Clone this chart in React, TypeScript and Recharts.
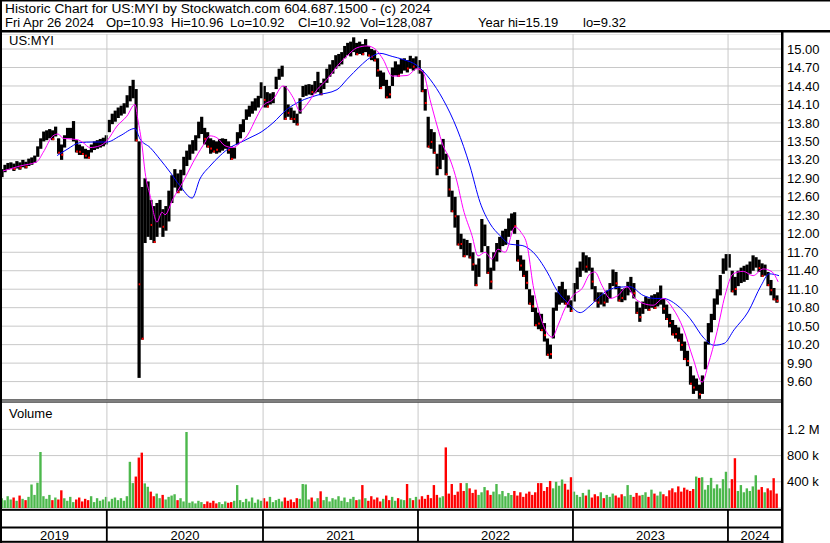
import { ComposedChart, Bar, Line, XAxis, YAxis, CartesianGrid, ReferenceLine, Cell } from "recharts";

// weekly ranges, late Apr 2019 -> Apr 26 2024
const LOWS = [
  12.92, 13.00, 13.04, 13.05, 13.02, 13.06, 13.04, 13.08, 13.06, 13.10,
  13.12, 13.15, 13.25, 13.38, 13.50, 13.52, 13.55, 13.52, 13.58, 13.30,
  13.20, 13.40, 13.55, 13.55, 13.50, 13.32, 13.28, 13.28, 13.22, 13.22,
  13.32, 13.36, 13.38, 13.40, 13.42, 13.45, 13.65, 13.78, 13.82, 13.88,
  13.92, 13.95, 14.05, 14.15, 14.20, 13.50, 9.66, 10.28, 11.85, 11.95,
  11.90, 11.85, 11.95, 12.10, 11.95, 12.05, 12.20, 12.50, 12.75, 12.66,
  12.70, 12.95, 13.10, 13.20, 13.30, 13.35, 13.55, 13.62, 13.45, 13.40,
  13.30, 13.32, 13.30, 13.32, 13.35, 13.38, 13.30, 13.20, 13.22, 13.45,
  13.55, 13.65, 13.85, 13.90, 13.95, 14.00, 14.05, 14.20, 14.05, 14.05,
  14.10, 14.12, 14.35, 14.50, 14.55, 13.85, 13.90, 13.85, 13.80, 13.76,
  13.95, 14.22, 14.24, 14.26, 14.25, 14.28, 14.30, 14.25, 14.35, 14.45,
  14.55, 14.60, 14.68, 14.72, 14.75, 14.85, 14.90, 14.88, 14.95, 14.90,
  14.92, 14.90, 14.95, 14.88, 14.82, 14.80, 14.55, 14.35, 14.40, 14.20,
  14.20, 14.40, 14.57, 14.55, 14.60, 14.65, 14.62, 14.68, 14.65, 14.68,
  14.60, 14.30, 14.00, 13.40, 13.38, 13.30, 12.95, 13.05, 13.20, 12.95,
  12.60, 12.35, 12.10, 11.81, 11.75, 11.62, 11.65, 11.60, 11.40, 11.15,
  11.30, 11.70, 11.80, 11.35, 11.10, 11.40, 11.55, 11.70, 11.80, 11.82,
  11.95, 12.05, 12.00, 11.55, 11.40, 11.30, 11.10, 10.85, 10.73, 10.50,
  10.45, 10.42, 10.25, 10.02, 9.97, 10.30, 10.75, 10.85, 10.88, 10.85,
  10.80, 10.73, 10.90, 11.10, 11.30, 11.40, 11.37, 11.40, 11.10, 10.90,
  10.80, 10.85, 10.82, 10.88, 10.95, 11.15, 11.10, 10.90, 10.89, 10.92,
  11.00, 11.05, 10.95, 10.70, 10.57, 10.70, 10.78, 10.75, 10.80, 10.78,
  10.82, 10.85, 10.70, 10.60, 10.48, 10.35, 10.30, 10.25, 10.10, 9.95,
  9.85, 9.55, 9.40, 9.45, 9.32, 9.40, 9.80, 10.20, 10.40, 10.60,
  10.85, 11.00, 11.35, 11.40, 11.45, 11.05, 11.00, 11.15, 11.20, 11.22,
  11.25, 11.35, 11.40, 11.45, 11.38, 11.30, 11.32, 11.15, 11.00, 10.92, 10.88,
];
const HIGHS = [
  13.05, 13.12, 13.15, 13.16, 13.14, 13.18, 13.16, 13.20, 13.17, 13.22,
  13.24, 13.27, 13.42, 13.55, 13.66, 13.68, 13.70, 13.68, 13.74, 13.55,
  13.45, 13.60, 13.72, 13.72, 13.83, 13.52, 13.45, 13.42, 13.38, 13.36,
  13.45, 13.50, 13.52, 13.54, 13.56, 13.60, 13.85, 13.95, 14.00, 14.05,
  14.08, 14.12, 14.25, 14.40, 14.50, 14.35, 13.50, 12.76, 12.90, 12.85,
  12.55, 12.45, 12.50, 12.55, 12.40, 12.45, 12.70, 12.95, 13.05, 12.98,
  13.04, 13.25, 13.35, 13.45, 13.52, 13.60, 13.82, 13.90, 13.72, 13.65,
  13.55, 13.52, 13.50, 13.54, 13.55, 13.54, 13.50, 13.42, 13.40, 13.65,
  13.78, 13.86, 14.02, 14.08, 14.15, 14.20, 14.24, 14.46, 14.40, 14.30,
  14.28, 14.30, 14.55, 14.68, 14.73, 14.40, 14.10, 14.05, 14.00, 13.95,
  14.20, 14.40, 14.42, 14.43, 14.42, 14.48, 14.63, 14.45, 14.52, 14.68,
  14.75, 14.82, 14.90, 14.92, 14.95, 15.05, 15.10, 15.12, 15.19, 15.10,
  15.12, 15.08, 15.16, 15.05, 15.00, 14.98, 14.85, 14.65, 14.62, 14.50,
  14.40, 14.70, 14.80, 14.75, 14.84, 14.85, 14.82, 14.89, 14.85, 14.88,
  14.82, 14.65, 14.35, 13.90, 13.70, 13.65, 13.30, 13.45, 13.54, 13.30,
  12.94, 12.70, 12.60, 12.30, 12.00, 11.92, 11.90, 11.85, 11.70, 11.50,
  11.60, 12.24, 12.15, 11.80, 11.45, 11.70, 11.85, 11.95, 12.05, 12.08,
  12.25, 12.33, 12.35, 11.90, 11.65, 11.58, 11.40, 11.10, 11.00, 10.80,
  10.72, 10.70, 10.55, 10.30, 10.20, 10.80, 11.05, 11.15, 11.22, 11.10,
  11.00, 10.92, 11.20, 11.45, 11.55, 11.70, 11.65, 11.62, 11.45, 11.15,
  11.05, 11.05, 11.02, 11.08, 11.20, 11.42, 11.38, 11.15, 11.10, 11.12,
  11.22, 11.30, 11.20, 10.90, 10.80, 10.90, 10.98, 10.95, 11.00, 11.02,
  11.05, 11.16, 10.95, 10.85, 10.70, 10.60, 10.52, 10.48, 10.38, 10.25,
  10.10, 9.85, 9.70, 9.65, 9.55, 9.70, 10.25, 10.55, 10.70, 10.95,
  11.10, 11.33, 11.60, 11.67, 11.67, 11.40, 11.30, 11.40, 11.45, 11.48,
  11.50, 11.55, 11.65, 11.62, 11.58, 11.52, 11.50, 11.38, 11.25, 11.12, 11.00,
];
// weekly volume, thousands of shares
const VOLUME_K = [
  150, 120, 180, 130, 160, 110, 190, 140, 120, 170,
  360, 200, 385, 855, 180, 140, 200, 120, 160, 130,
  270, 150, 110, 170, 90, 130, 160, 100, 140, 120,
  180, 90, 150, 110, 130, 170, 100, 140, 160, 120,
  150, 110, 180, 705, 380, 480, 770, 845, 376, 324,
  250, 180, 220, 150, 200, 130, 170, 190, 210, 120,
  150, 100, 1160, 80, 100, 70, 110, 90, 60, 100,
  80, 110, 70, 90, 60, 100, 80, 90, 110, 350,
  120, 90, 140, 100, 160, 80, 130, 110, 150, 100,
  170, 90, 120, 140, 100, 160, 110, 130, 90, 150,
  140, 366, 360, 130, 160, 100, 150, 255, 120, 170,
  100, 150, 130, 180, 110, 160, 90, 140, 170, 120,
  130, 350, 150, 110, 180, 130, 160, 100, 140, 190,
  120, 170, 110, 150, 130, 120, 366, 150, 120, 170,
  130, 180, 140, 200, 150, 350, 200, 160, 180, 925,
  220, 366, 200, 250, 380, 260, 380, 300, 230, 280,
  200, 240, 320, 270, 200, 250, 366, 210, 260, 180,
  230, 200, 260, 190, 240, 170, 220, 250, 200, 240,
  380, 380, 260, 320, 413, 300, 400, 340, 435, 370,
  280, 470, 250, 200, 170, 230, 190, 280, 160, 210,
  180, 240, 150, 200, 170, 220, 190, 160, 210, 180,
  350, 200, 170, 230, 190, 200, 240, 170, 280, 220,
  190, 250, 210, 180, 270, 300, 240, 330, 250, 310,
  280, 260, 290, 480, 460, 470, 280, 350, 460, 300,
  360, 300, 440, 553, 300, 440, 760, 260, 350, 240,
  300, 260, 330, 500, 280, 320, 240, 300, 270, 455, 220,
];

// moving averages (magenta = short, blue = long), week position -> price
const FAST_WEEK = [
  0.3, 6, 11.7, 13.8, 17.1, 18.8, 20.5, 25.2, 27.2, 29.5, 32.9, 35.2, 38.6, 41.9, 44.6,
  45.6, 47, 48, 49.7, 52, 53.7, 54.7, 57.4, 60.7, 64.1, 67.4, 69.8, 72.1, 74.8, 77.5,
  79.9, 82.2, 85.6, 87.6, 90.9, 94.3, 97.7, 100, 102.3, 105.7, 109.1, 112.4, 115.8, 119.1,
  122.5, 125.2, 127.9, 130.9, 135.9, 139.3, 141.3, 143.6, 146, 148, 150.3, 152.7, 154.7,
  157.7, 159.7, 162.1, 164.4, 166.4, 168.8, 172.1, 174.2, 176.2, 178.2, 180.5, 182.9,
  184.6, 186.6, 188.9, 191.6, 194.6, 197.3, 198.9, 201.3, 204, 206.7, 209.7, 212.4,
  215.1, 218.5, 221.8, 225.2, 228.5, 231.9, 234.9, 236.9, 239.9, 242.6, 245.3, 248.7,
  252, 255.4, 258.4, 260.4,
];
const FAST_MA = [
  13.02, 13.10, 13.17, 13.32, 13.59, 13.62, 13.55, 13.53, 13.48, 13.40, 13.43, 13.51, 13.75, 13.91, 14.10,
  13.85, 13.43, 13.00, 12.62, 12.19, 12.35, 12.31, 12.57, 12.84, 13.16, 13.43, 13.59, 13.56, 13.43, 13.40,
  13.48, 13.59, 13.91, 14.08, 14.18, 14.40, 14.21, 13.99, 14.10, 14.34, 14.51, 14.72, 14.89, 15.02,
  15.05, 15.00, 14.83, 14.56, 14.57, 14.68, 14.62, 14.18, 13.75, 13.43, 13.21, 12.84, 12.41,
  11.97, 11.64, 11.70, 11.59, 11.75, 11.70, 12.11, 12.02, 11.81, 11.16, 10.68, 10.39,
  10.32, 10.52, 10.79, 11.00, 11.11, 11.35, 11.38, 11.16, 10.95, 11.00, 11.14, 10.95,
  10.87, 10.84, 10.95, 10.78, 10.47, 9.97, 9.59, 9.87, 10.41, 11.00, 11.35, 11.39,
  11.32, 11.43, 11.38, 11.22,
];
const SLOW_WEEK = [
  18.5, 21.8, 26.2, 30.5, 35.2, 39.6, 44.6, 46.3, 49.7, 53, 56.4, 59.7, 63.8, 66.4, 69.8,
  73.2, 76.5, 79.9, 83.2, 87.2, 90.9, 95.6, 100, 105.7, 112.4, 115.8, 120.1, 123.5, 126.8,
  130.9, 134.6, 139.3, 143.6, 148, 152.7, 157, 160.4, 163.8, 167.1, 170.5, 174.5, 178.2,
  182.9, 186.2, 190, 194, 197.3, 201.7, 206.4, 210.7, 215.1, 219.1, 221.8, 226.5, 230.9,
  235.6, 238.9, 242.3, 245.6, 250.3, 254.7, 257.4, 260.7,
];
const SLOW_MA = [
  13.27, 13.37, 13.48, 13.49, 13.49, 13.59, 13.71, 13.54, 13.40, 13.21, 13.00, 12.78, 12.58, 12.89, 13.10,
  13.27, 13.40, 13.48, 13.56, 13.66, 13.80, 14.02, 14.15, 14.25, 14.34, 14.51, 14.72, 14.86, 14.93,
  14.88, 14.83, 14.73, 14.51, 14.18, 13.70, 13.10, 12.51, 12.16, 11.97, 11.83, 11.81, 11.70,
  11.38, 11.08, 10.87, 10.72, 10.83, 11.03, 11.13, 11.14, 11.00, 10.95, 10.95, 10.84, 10.62,
  10.30, 10.19, 10.22, 10.44, 10.73, 11.16, 11.35, 11.32,
];

const PRICE_TICKS = [9.6, 9.9, 10.2, 10.5, 10.8, 11.1, 11.4, 11.7, 12.0, 12.3, 12.6, 12.9, 13.2, 13.5, 13.8, 14.1, 14.4, 14.7, 15.0];
const VOLUME_TICKS = [400, 800, 1200];
const YEARS = ["2019", "2020", "2021", "2022", "2023", "2024"];
const YEAR_START_WEEK = [35.2, 87.6, 139.6, 191.6, 243.6];

const WEEK_DOMAIN: [number, number] = [0, 261.7];
const PRICE_DOMAIN: [number, number] = [9.301, 15.244];
const VOLUME_DOMAIN: [number, number] = [0, 1618];

const FONT = '"Liberation Sans", Arial, Helvetica, sans-serif';
const GRID = "#c8c8c8";
const UP = "#4cb84c";
const DOWN = "#ff0000";

// plot spans x 2..782
const PLOT_L = 2;
const PLOT_R = 782;
const wx = (w: number) => PLOT_L + (w - WEEK_DOMAIN[0]) / (WEEK_DOMAIN[1] - WEEK_DOMAIN[0]) * (PLOT_R - PLOT_L);

const mid = (i: number) => (LOWS[i] + HIGHS[i]) / 2;
const priceData = LOWS.map((lo, i) => ({
  w: i,
  range: [lo, HIGHS[i]],
  down: i > 0 && mid(i) < mid(i - 1),
}));
const volumeData = VOLUME_K.map((v, i) => ({ w: i, v, down: i > 0 && mid(i) < mid(i - 1) }));
const fastData = FAST_WEEK.map((w, i) => ({ w, v: FAST_MA[i] }));
const slowData = SLOW_WEEK.map((w, i) => ({ w, v: SLOW_MA[i] }));

function PriceBar(props: any) {
  const { x, y, width, height, payload, index } = props;
  if (x == null || y == null) return null;
  const cx = x + width / 2;
  const h = Math.max(Math.abs(height), 1);
  const top = height < 0 ? y + height : y;
  // a red tick at the close end of down weeks, alternating sides
  const tickY = index % 2 ? top + h - 2 : top + Math.min(h - 2, h * 0.6);
  return (
    <g>
      <rect x={cx - 1.6} y={top} width={3.2} height={h} fill="#000" />
      {payload.down && <rect x={cx - 0.4} y={tickY} width={2} height={2} fill={DOWN} />}
    </g>
  );
}

const volLabel = (v: number) => (v >= 1000 ? `${(v / 1000).toFixed(1)} M` : `${v} k`);

export default function App() {
  const bounds = [PLOT_L, ...YEAR_START_WEEK.map(wx), PLOT_R];
  return (
    <div style={{ position: "absolute", left: 0, top: 0, width: 830, height: 543, background: "#fff", fontFamily: FONT, overflow: "hidden" }}>
      {/* price panel */}
      <div style={{ position: "absolute", left: 0, top: 34 }}>
        <ComposedChart width={830} height={366} data={priceData} margin={{ top: 0, right: 0, bottom: 0, left: PLOT_L }}>
          <CartesianGrid vertical={false} stroke={GRID} />
          <XAxis type="number" dataKey="w" domain={WEEK_DOMAIN} allowDataOverflow hide />
          <YAxis
            orientation="right" width={830 - PLOT_R} domain={PRICE_DOMAIN} allowDataOverflow
            ticks={PRICE_TICKS} tickFormatter={(v: number) => v.toFixed(2)}
            tick={{ fontSize: 13, fill: "#000", fontFamily: FONT }} tickLine={false} axisLine={false}
            tickSize={3} tickMargin={2} interval={0}
          />
          {YEAR_START_WEEK.map((w) => (
            <ReferenceLine key={w} x={w} stroke={GRID} />
          ))}
          <Bar dataKey="range" barSize={3} shape={<PriceBar />} isAnimationActive={false} />
          <Line data={slowData} dataKey="v" type="monotone" stroke="#0000ff" strokeWidth={1} dot={false} isAnimationActive={false} />
          <Line data={fastData} dataKey="v" type="monotone" stroke="#ff00ff" strokeWidth={1} dot={false} isAnimationActive={false} />
        </ComposedChart>
      </div>

      {/* volume panel */}
      <div style={{ position: "absolute", left: 0, top: 402 }}>
        <ComposedChart width={830} height={106} data={volumeData} margin={{ top: 0, right: 0, bottom: 0, left: PLOT_L }}>
          <CartesianGrid vertical={false} stroke={GRID} />
          <XAxis type="number" dataKey="w" domain={WEEK_DOMAIN} allowDataOverflow hide />
          <YAxis
            orientation="right" width={830 - PLOT_R} domain={VOLUME_DOMAIN} allowDataOverflow
            ticks={VOLUME_TICKS} tickFormatter={volLabel}
            tick={{ fontSize: 13, fill: "#000", fontFamily: FONT }} tickLine={false} axisLine={false}
            tickSize={3} tickMargin={2} interval={0}
          />
          {YEAR_START_WEEK.map((w) => (
            <ReferenceLine key={w} x={w} stroke={GRID} />
          ))}
          <Bar dataKey="v" barSize={2.4} isAnimationActive={false}>
            {volumeData.map((d, i) => (
              <Cell key={i} fill={d.down ? DOWN : UP} />
            ))}
          </Bar>
        </ComposedChart>
      </div>

      {/* frame, header and year band */}
      <svg width={830} height={543} style={{ position: "absolute", left: 0, top: 0, pointerEvents: "none" }} fontFamily={FONT}>
        <text x={5} y={13} fontSize={13.7} fill="#000">Historic Chart for US:MYI by Stockwatch.com 604.687.1500 - (c) 2024</text>
        <g fontSize={13} fill="#000">
          <text x={5} y={27}>Fri Apr 26 2024</text>
          <text x={106} y={27}>Op=10.93</text>
          <text x={171} y={27}>Hi=10.96</text>
          <text x={230} y={27}>Lo=10.92</text>
          <text x={298} y={27}>Cl=10.92</text>
          <text x={360} y={27}>Vol=128,087</text>
          <text x={478} y={27}>Year hi=15.19</text>
          <text x={583} y={27}>lo=9.32</text>
        </g>
        <text x={9} y={45} fontSize={13} fill="#000">US:MYI</text>
        <text x={9} y={418} fontSize={13} fill="#000">Volume</text>

        <rect x={0} y={0} width={830} height={1.5} fill="#000" />
        <rect x={0} y={0} width={2} height={543} fill="#000" />
        <rect x={0} y={30} width={830} height={2.5} fill="#000" />
        <rect x={PLOT_R - 1} y={32} width={2.5} height={511} fill="#000" />
        <rect x={0} y={399.5} width={PLOT_R} height={1} fill="#000" />
        <rect x={0} y={401.5} width={PLOT_R} height={1} fill="#000" />
        <rect x={0} y={508.8} width={PLOT_R} height={2} fill="#000" />
        <rect x={0} y={526.5} width={PLOT_R} height={2} fill="#000" />
        <rect x={0} y={540.8} width={PLOT_R} height={2} fill="#000" />
        {bounds.slice(1, -1).map((bx) => (
          <rect key={bx} x={bx - 1} y={510} width={1.8} height={32} fill="#000" />
        ))}
        {YEARS.map((yr, i) => (
          <text key={yr} x={(bounds[i] + bounds[i + 1]) / 2} y={539.5} fontSize={13} fill="#000" textAnchor="middle">
            {yr}
          </text>
        ))}
      </svg>
    </div>
  );
}
